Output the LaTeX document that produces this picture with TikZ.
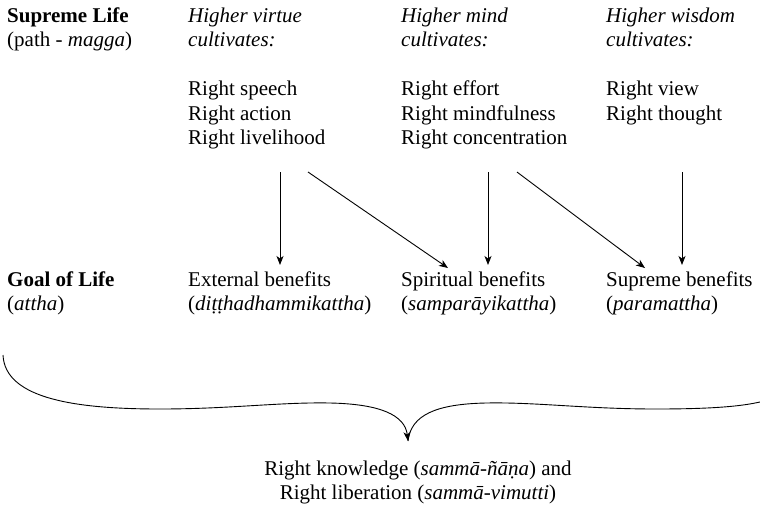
\documentclass[tikz,border=0pt]{standalone}
\usepackage{fontspec}
\setmainfont{Liberation Serif}
\usetikzlibrary{arrows.meta}
\tikzset{
  txt/.style={font=\fontsize{21}{24.4}\selectfont, align=left, inner sep=0pt, anchor=base west},
  ctxt/.style={font=\fontsize{21}{24.4}\selectfont, align=center, inner sep=0pt, anchor=base},
  arr/.style={line width=0.9pt, -{Stealth[length=9pt,width=7pt,inset=2.5pt]}},
  brace/.style={line width=0.9pt}
}
\begin{document}
\begin{tikzpicture}[x=1pt,y=-1pt]
\useasboundingbox (0,0) rectangle (760,520);
% top row (base anchor = baseline of last line)
\node[txt] (life) at (7,46.9) {\textbf{Supreme Life}\\(path - \textit{magga})};
\node[txt] (virtue) at (188,144.5) {\textit{Higher virtue}\\\textit{cultivates:}\\[24.4pt]Right speech\\Right action\\Right livelihood};
\node[txt] (mind) at (401,144.5) {\textit{Higher mind}\\\textit{cultivates:}\\[24.4pt]Right effort\\Right mindfulness\\Right concentration};
\node[txt] (wisdom) at (606,120.1) {\textit{Higher wisdom}\\\textit{cultivates:}\\[24.4pt]Right view\\Right thought};
% second row
\node[txt] (goal) at (7,310.9) {\textbf{Goal of Life}\\(\textit{attha})};
\node[txt] (ext) at (188,310.9) {External benefits\\(\textit{diṭṭhadhammikattha})};
\node[txt] (spi) at (401,310.9) {Spiritual benefits\\(\textit{samparāyikattha})};
\node[txt] (sup) at (606,310.9) {Supreme benefits\\(\textit{paramattha})};
% bottom
\node[ctxt] (know) at (418,499.4) {Right knowledge (\textit{sammā-ñāṇa}) and\\Right liberation (\textit{sammā-vimutti})};
% arrow ends
\coordinate (a1) at (280,172);  \coordinate (b1) at (280,265);
\coordinate (a2) at (308,172);  \coordinate (b2) at (448,268);
\coordinate (a3) at (488,172);  \coordinate (b3) at (488,265);
\coordinate (a4) at (517,172);  \coordinate (b4) at (645,268);
\coordinate (a5) at (682,172);  \coordinate (b5) at (682,265);
\draw[arr] (a1) -- (b1);
\draw[arr] (a2) -- (b2);
\draw[arr] (a3) -- (b3);
\draw[arr] (a4) -- (b4);
\draw[arr] (a5) -- (b5);
% brace
\coordinate (tip) at (408,441);
\begin{scope}
\clip (0,0) rectangle (760,520);
\draw[brace] (tip) .. controls (411,415) and (436,404) .. (486,403)
  .. controls (536,402) and (586,409) .. (656,409)
  .. controls (715,409) and (745,406) .. (764,401);
\draw[brace, -{Stealth[length=9pt,width=7pt,inset=2.5pt]}] (3,355) .. controls (5,400) and (80,409) .. (160,409)
  .. controls (230,409) and (280,402) .. (330,403)
  .. controls (380,404) and (405,415) .. (tip);
\end{scope}
\end{tikzpicture}
\end{document}
